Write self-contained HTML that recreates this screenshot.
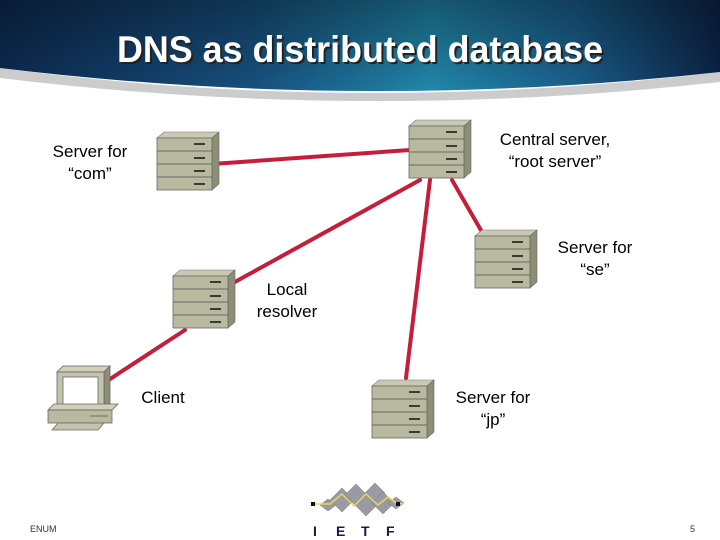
<!DOCTYPE html>
<html><head><meta charset="utf-8"><style>
html,body{margin:0;padding:0;background:#fff}
svg{display:block}
text{font-family:"Liberation Sans",sans-serif}
</style></head><body>
<svg width="720" height="540" viewBox="0 0 720 540" xmlns="http://www.w3.org/2000/svg">
<defs>
<linearGradient id="bg" x1="0" y1="0" x2="1" y2="0">
<stop offset="0" stop-color="#0d2a52"/><stop offset="0.35" stop-color="#17507e"/>
<stop offset="0.6" stop-color="#2187aa"/><stop offset="0.8" stop-color="#1a5f8c"/><stop offset="1" stop-color="#0c2347"/>
</linearGradient>
<linearGradient id="bgv" x1="0" y1="0" x2="0" y2="1">
<stop offset="0" stop-color="#000" stop-opacity="0.35"/><stop offset="1" stop-color="#000" stop-opacity="0"/>
</linearGradient>
<g id="srv">
<polygon points="0,6 7,0 62,0 55,6" fill="#c9c9b3" stroke="#777" stroke-width="0.6"/>
<polygon points="55,6 62,0 62,52 55,58" fill="#8e8e76" stroke="#666" stroke-width="0.6"/>
<rect x="0" y="6" width="55" height="52" fill="#b9b9a0" stroke="#666" stroke-width="0.8"/>
<line x1="0" y1="19" x2="55" y2="19" stroke="#666"/>
<line x1="0" y1="32" x2="55" y2="32" stroke="#666"/>
<line x1="0" y1="45" x2="55" y2="45" stroke="#666"/>
<line x1="37" y1="12" x2="48" y2="12" stroke="#111" stroke-width="1.5"/>
<line x1="37" y1="26" x2="48" y2="26" stroke="#111" stroke-width="1.5"/>
<line x1="37" y1="39" x2="48" y2="39" stroke="#111" stroke-width="1.5"/>
<line x1="37" y1="52" x2="48" y2="52" stroke="#111" stroke-width="1.5"/>
</g>
</defs>
<path d="M0,68 Q360,116 720,72 L720,82 Q360,122 0,78 Z" fill="#aaa" opacity="0.6"/>
<path d="M0,0 H720 V72 Q360,112 0,68 Z" fill="url(#bg)"/>
<path d="M0,0 H720 V72 Q360,112 0,68 Z" fill="url(#bgv)"/>
<text x="119" y="64" font-size="37" font-weight="bold" fill="#222" textLength="486" lengthAdjust="spacingAndGlyphs">DNS as distributed database</text>
<text x="117" y="62" font-size="37" font-weight="bold" fill="#fff" textLength="486" lengthAdjust="spacingAndGlyphs">DNS as distributed database</text>

<g stroke="#c41e3a" stroke-width="4" stroke-linecap="round">
<line x1="212" y1="164" x2="410" y2="150"/>
<line x1="420" y1="180" x2="233" y2="283"/>
<line x1="452" y1="180" x2="482" y2="232"/>
<line x1="430" y1="180" x2="406" y2="378"/>
<line x1="185" y1="330" x2="104" y2="383"/>
</g>

<use href="#srv" x="157" y="132"/>
<use href="#srv" x="409" y="120"/>
<use href="#srv" x="475" y="230"/>
<use href="#srv" x="173" y="270"/>
<use href="#srv" x="372" y="380"/>

<g stroke="#666" stroke-width="0.8">
<polygon points="57,372 63,366 110,366 104,372" fill="#cfcfba"/>
<polygon points="104,372 110,366 110,404 104,410" fill="#8e8e76"/>
<rect x="57" y="372" width="47" height="38" fill="#c4c4ad"/>
<rect x="63" y="377" width="35" height="28" fill="#fff"/>
<polygon points="48,410 54,404 118,404 112,410" fill="#cfcfba"/>
<rect x="48" y="410" width="64" height="13" fill="#b9b9a0"/>
<line x1="90" y1="416" x2="108" y2="416" stroke="#555"/>
<polygon points="52,430 58,423 104,423 98,430" fill="#c4c4ad"/>
</g>

<g font-size="17" fill="#000" text-anchor="middle">
<text x="90" y="157">Server for</text><text x="90" y="179">“com”</text>
<text x="555" y="145">Central server,</text><text x="555" y="167">“root server”</text>
<text x="595" y="253">Server for</text><text x="595" y="275">“se”</text>
<text x="287" y="295">Local</text><text x="287" y="317">resolver</text>
<text x="163" y="403">Client</text>
<text x="493" y="403">Server for</text><text x="493" y="425">“jp”</text>
</g>
<text x="30" y="532" font-size="9" fill="#333">ENUM</text>
<text x="690" y="532" font-size="9" fill="#333">5</text>

<g>
<g fill="#9a9aa4" stroke="#777" stroke-width="0.5">
<polygon points="320,505 328,499 336,505 328,511"/>
<polygon points="330,500 342,488 354,500 342,512"/>
<polygon points="345,495 356,484 367,495 356,506"/>
<polygon points="355,505 366,494 377,505 366,516"/>
<polygon points="365,493 375,483 385,493 375,503"/>
<polygon points="372,503 383,492 394,503 383,514"/>
<polygon points="388,503 396,497 404,503 396,509"/>
</g>
<polyline points="312,504 330,504 342,494 354,506 366,494 378,505 388,497 396,503 404,504" fill="none" stroke="#e8d85a" stroke-width="1.5"/>
<rect x="311" y="502" width="4" height="4" fill="#111"/><rect x="396" y="502" width="4" height="4" fill="#111"/>
<g font-size="14" font-weight="bold" fill="#1a1a4a">
<text x="313" y="536">I</text><text x="336" y="536">E</text><text x="361" y="536">T</text><text x="386" y="536">F</text>
</g>
</g>
</svg>
</body></html>
